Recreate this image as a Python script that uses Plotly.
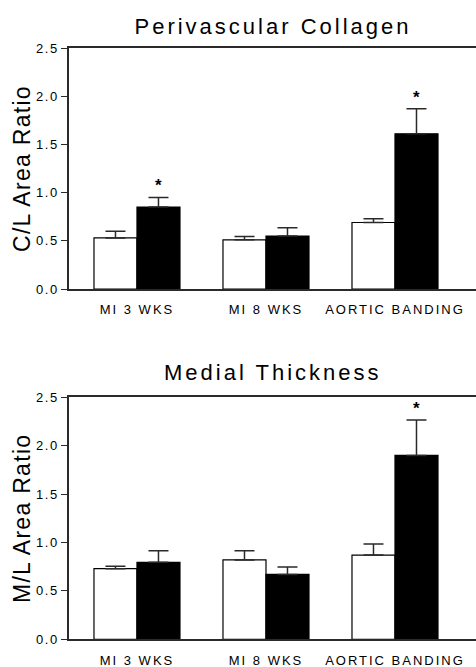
import plotly.graph_objects as go

categories = ["MI 3 WKS", "MI 8 WKS", "AORTIC BANDING"]

collagen_ctrl = [0.53, 0.51, 0.69]
collagen_ctrl_err = [0.07, 0.035, 0.04]
collagen_trt = [0.85, 0.55, 1.61]
collagen_trt_err = [0.10, 0.085, 0.26]
collagen_sig = [True, False, True]

medial_ctrl = [0.73, 0.82, 0.87]
medial_ctrl_err = [0.025, 0.095, 0.115]
medial_trt = [0.795, 0.67, 1.90]
medial_trt_err = [0.12, 0.077, 0.365]
medial_sig = [False, False, True]

y_ticks = [0.0, 0.5, 1.0, 1.5, 2.0, 2.5]

panels = [
    dict(title="Perivascular Collagen", ytitle="C/L Area Ratio",
         ctrl=collagen_ctrl, ctrl_err=collagen_ctrl_err,
         trt=collagen_trt, trt_err=collagen_trt_err, sig=collagen_sig,
         xa="x", ya="y", domain=[0.5667, 0.928], tshift=7),
    dict(title="Medial Thickness", ytitle="M/L Area Ratio",
         ctrl=medial_ctrl, ctrl_err=medial_ctrl_err,
         trt=medial_trt, trt_err=medial_trt_err, sig=medial_sig,
         xa="x2", ya="y2", domain=[0.0415, 0.4043], tshift=10),
]

FONT = "Liberation Sans, Arial, Helvetica, sans-serif"
LINE = "#2a2a2a"
BARGAP = 1 / 3.0

fig = go.Figure()
annotations = []

for i, p in enumerate(panels):
    fig.add_trace(go.Bar(
        x=categories, y=p["ctrl"], name="Control",
        marker=dict(color="white", line=dict(color="black", width=1.2)),
        error_y=dict(type="data", array=p["ctrl_err"], arrayminus=[0] * 3,
                     symmetric=False, color=LINE, thickness=1.5, width=10),
        xaxis=p["xa"], yaxis=p["ya"], showlegend=False,
    ))
    fig.add_trace(go.Bar(
        x=categories, y=p["trt"], name="Treated",
        marker=dict(color="black", line=dict(color="black", width=1.2)),
        error_y=dict(type="data", array=p["trt_err"], arrayminus=[0] * 3,
                     symmetric=False, color=LINE, thickness=1.5, width=10),
        xaxis=p["xa"], yaxis=p["ya"], showlegend=False,
    ))
    offset = (1 - BARGAP) / 4.0
    for k, s in enumerate(p["sig"]):
        if s:
            annotations.append(dict(
                x=k + offset, y=p["trt"][k] + p["trt_err"][k],
                xref=p["xa"], yref=p["ya"], text="<b>*</b>", showarrow=False,
                yanchor="bottom", yshift=0,
                font=dict(size=17, color="black", family=FONT),
            ))
    annotations.append(dict(
        x=0.5, y=1, xref=p["xa"] + " domain", yref=p["ya"] + " domain",
        text=p["title"], showarrow=False, yanchor="bottom",
        yshift=p["tshift"], font=dict(size=22, color="black", family=FONT),
    ))

axis_x = dict(
    type="category", range=[-0.527, 2.628], showline=True, mirror=True,
    linecolor=LINE, linewidth=1.5, ticks="outside", ticklen=8,
    tickcolor="rgba(0,0,0,0)", tickfont=dict(size=13, color="black", family=FONT),
    showgrid=False, zeroline=False, domain=[0, 1], automargin=False,
)
axis_y = dict(
    range=[0, 2.5], tickvals=y_ticks, tickformat=".1f", showline=True, mirror=False,
    linecolor=LINE, linewidth=1.5, ticks="outside", ticklen=6, tickcolor=LINE,
    tickwidth=1.2, tickfont=dict(size=13, color="black", family=FONT),
    showgrid=False, zeroline=False, automargin=False,
)

fig.update_layout(
    width=476, height=667, margin=dict(l=69, r=0, t=0, b=0, autoexpand=False),
    paper_bgcolor="white", plot_bgcolor="white",
    barmode="group", bargap=BARGAP, bargroupgap=0,
    font=dict(family=FONT, color="black"),
    annotations=annotations,
    xaxis=dict(axis_x, anchor="y"),
    xaxis2=dict(axis_x, anchor="y2"),
    yaxis=dict(axis_y, domain=panels[0]["domain"], anchor="x",
               title=dict(text=panels[0]["ytitle"], standoff=4,
                          font=dict(size=23, color="black", family=FONT))),
    yaxis2=dict(axis_y, domain=panels[1]["domain"], anchor="x2",
                title=dict(text=panels[1]["ytitle"], standoff=4,
                           font=dict(size=23, color="black", family=FONT))),
)

post = """
document.documentElement.style.margin = '0';
document.documentElement.style.overflow = 'hidden';
document.body.style.margin = '0';
document.body.style.padding = '0';
document.body.style.overflow = 'hidden';
var gd = document.getElementById('{plot_id}');
function ls() {
  gd.querySelectorAll('g.xtick text, g.x2tick text').forEach(function(t){ t.style.letterSpacing = '2px'; });
  gd.querySelectorAll('g.ytick text, g.y2tick text').forEach(function(t){ t.style.letterSpacing = '1.5px'; });
  gd.querySelectorAll('text.ytitle, text.y2title').forEach(function(t){ t.style.letterSpacing = '1.3px'; });
  gd.querySelectorAll('text.annotation-text').forEach(function(t){
    if (parseFloat(t.style.fontSize) > 18) { t.style.letterSpacing = '3px'; }
  });
}
ls();
setTimeout(ls, 50);
gd.on('plotly_afterplot', ls);
"""

fig.write_html("out.html", post_script=post, config={"displayModeBar": False})
